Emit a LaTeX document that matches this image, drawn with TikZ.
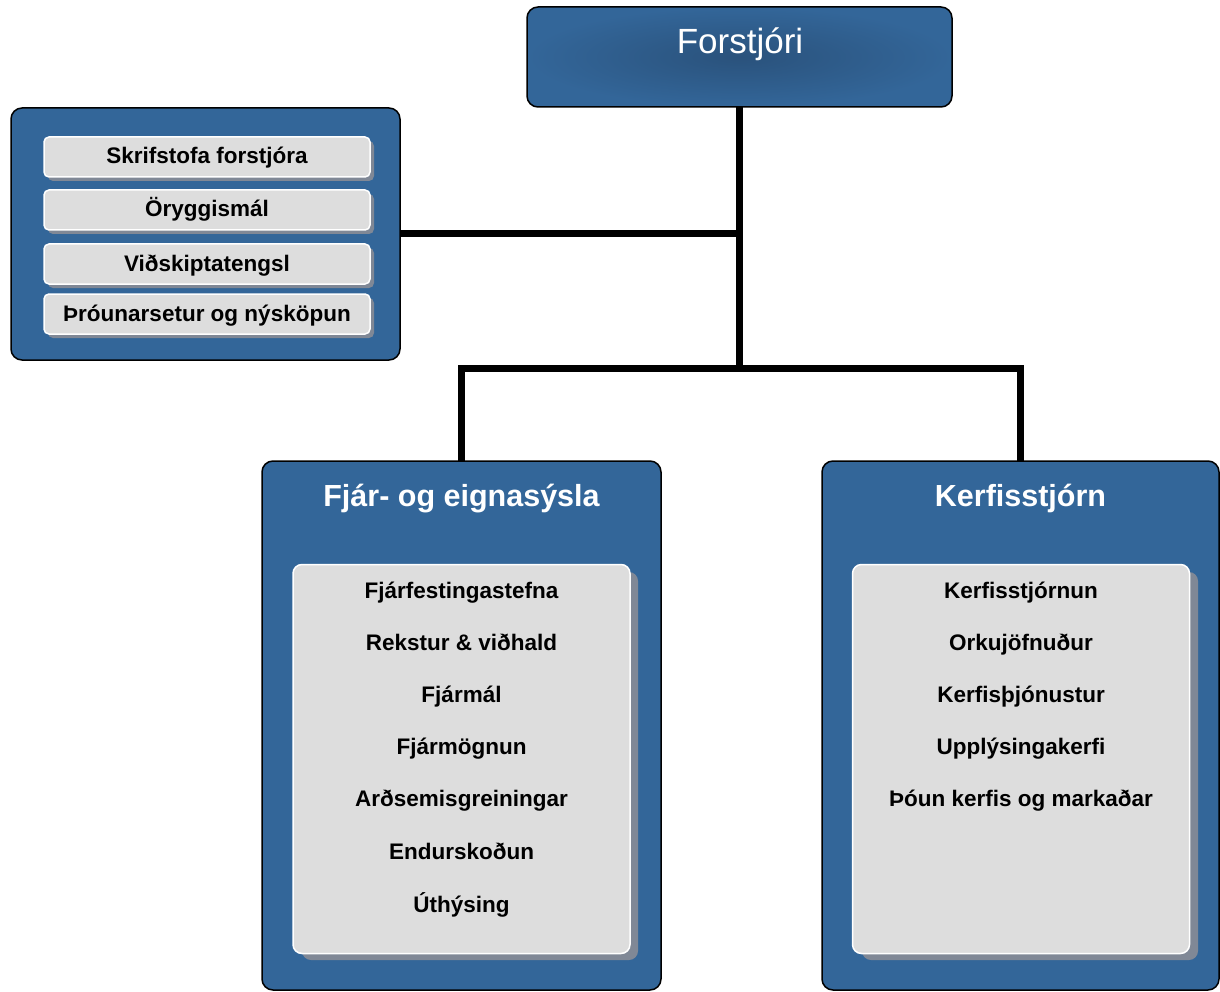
\documentclass[tikz,border=0pt]{standalone}
\usepackage{fontspec}
\setmainfont{Liberation Sans}
\definecolor{myblue}{RGB}{51,102,153}
\definecolor{darkblue}{RGB}{42,82,124}
\definecolor{panelgrey}{RGB}{221,221,221}
\definecolor{shadowgrey}{RGB}{128,136,150}
\tikzset{
  x=1pt, y=-1pt,
  bluebox/.style={rectangle, draw=black, line width=1.5pt, fill=myblue, rounded corners=11pt, inner sep=0pt, outer sep=0pt},
  itembox/.style={rectangle, draw=white, line width=1.5pt, fill=panelgrey, rounded corners=5pt, inner sep=0pt, outer sep=0pt,
     minimum width=326pt, minimum height=40pt},
  panelbox/.style={rectangle, draw=white, line width=1.5pt, fill=panelgrey, rounded corners=9pt, inner sep=0pt, outer sep=0pt,
     minimum width=337pt, minimum height=389pt},
  itemtxt/.style={font=\fontsize{22.5}{27}\bfseries\selectfont, text=black, anchor=base, inner sep=0pt},
  titletxt/.style={font=\fontsize{30.5}{36}\bfseries\selectfont, text=white, anchor=base, inner sep=0pt},
  conn/.style={draw=black, line width=7pt},
}
\begin{document}
\begin{tikzpicture}
\useasboundingbox (0,0) rectangle (1220,992);
% connectors (drawn first, behind boxes)
\coordinate (forstS) at (739.5,107);
\coordinate (bus) at (739.5,368);
\coordinate (leftE) at (400,234);
\coordinate (finN) at (461.5,461);
\coordinate (kerfN) at (1020.5,461);
\draw[conn] (forstS) -- (bus);
\draw[conn] (leftE) -- (leftE -| forstS);
\draw[conn] (finN) |- (bus) -| (kerfN);

% Forstjori
\node[bluebox, minimum width=425pt, minimum height=100pt, inner color=darkblue, outer color=myblue] (forst) at (739.5,57) {};
\node[font=\fontsize{35}{42}\selectfont, text=white, anchor=base, inner sep=0pt] (forsttxt) at (740,53.5) {Forstjóri};

% Left box
\node[bluebox, minimum width=389pt, minimum height=252pt] (left) at (205.5,234) {};
\foreach \y/\n/\t/\bl in {157/a/Skrifstofa forstjóra/163.5, 210/b/Öryggismál/217, 264/c/Viðskiptatengsl/271.7, 314/d/Þróunarsetur og nýsköpun/321.7}{
  \fill[shadowgrey, rounded corners=5pt] (48,\y-16) rectangle (374,\y+24);
  \node[itembox] (l\n) at (207,\y) {};
  \node[itemtxt] (l\n txt) at (207,\bl) {\t};
}

% Fjar- og eignasysla
\node[bluebox, minimum width=399pt, minimum height=529pt] (fin) at (461.5,725.5) {};
\node[titletxt] (fintxt) at (461.5,506) {Fjár- og eignasýsla};
\fill[shadowgrey, rounded corners=9pt] (302,572) rectangle (638,960);
\node[panelbox] (finpanel) at (461.5,759) {};
\foreach \bl/\n/\t in {598/a/Fjárfestingastefna, 650/b/Rekstur \& viðhald, 702/c/Fjármál, 754/d/Fjármögnun, 806/e/Arðsemisgreiningar, 859/f/Endurskoðun, 912/g/Úthýsing}{
  \node[itemtxt] (f\n) at (461.5,\bl) {\t};
}

% Kerfisstjorn
\node[bluebox, minimum width=397pt, minimum height=529pt] (kerf) at (1020.5,725.5) {};
\node[titletxt] (kerftxt) at (1020.5,506) {Kerfisstjórn};
\fill[shadowgrey, rounded corners=9pt] (862,572) rectangle (1198,960);
\node[panelbox] (kerfpanel) at (1021,759) {};
\foreach \bl/\n/\t in {598/a/Kerfisstjórnun, 650/b/Orkujöfnuður, 702/c/Kerfisþjónustur, 754/d/Upplýsingakerfi, 806/e/Þóun kerfis og markaðar}{
  \node[itemtxt] (k\n) at (1021,\bl) {\t};
}
\end{tikzpicture}
\end{document}
